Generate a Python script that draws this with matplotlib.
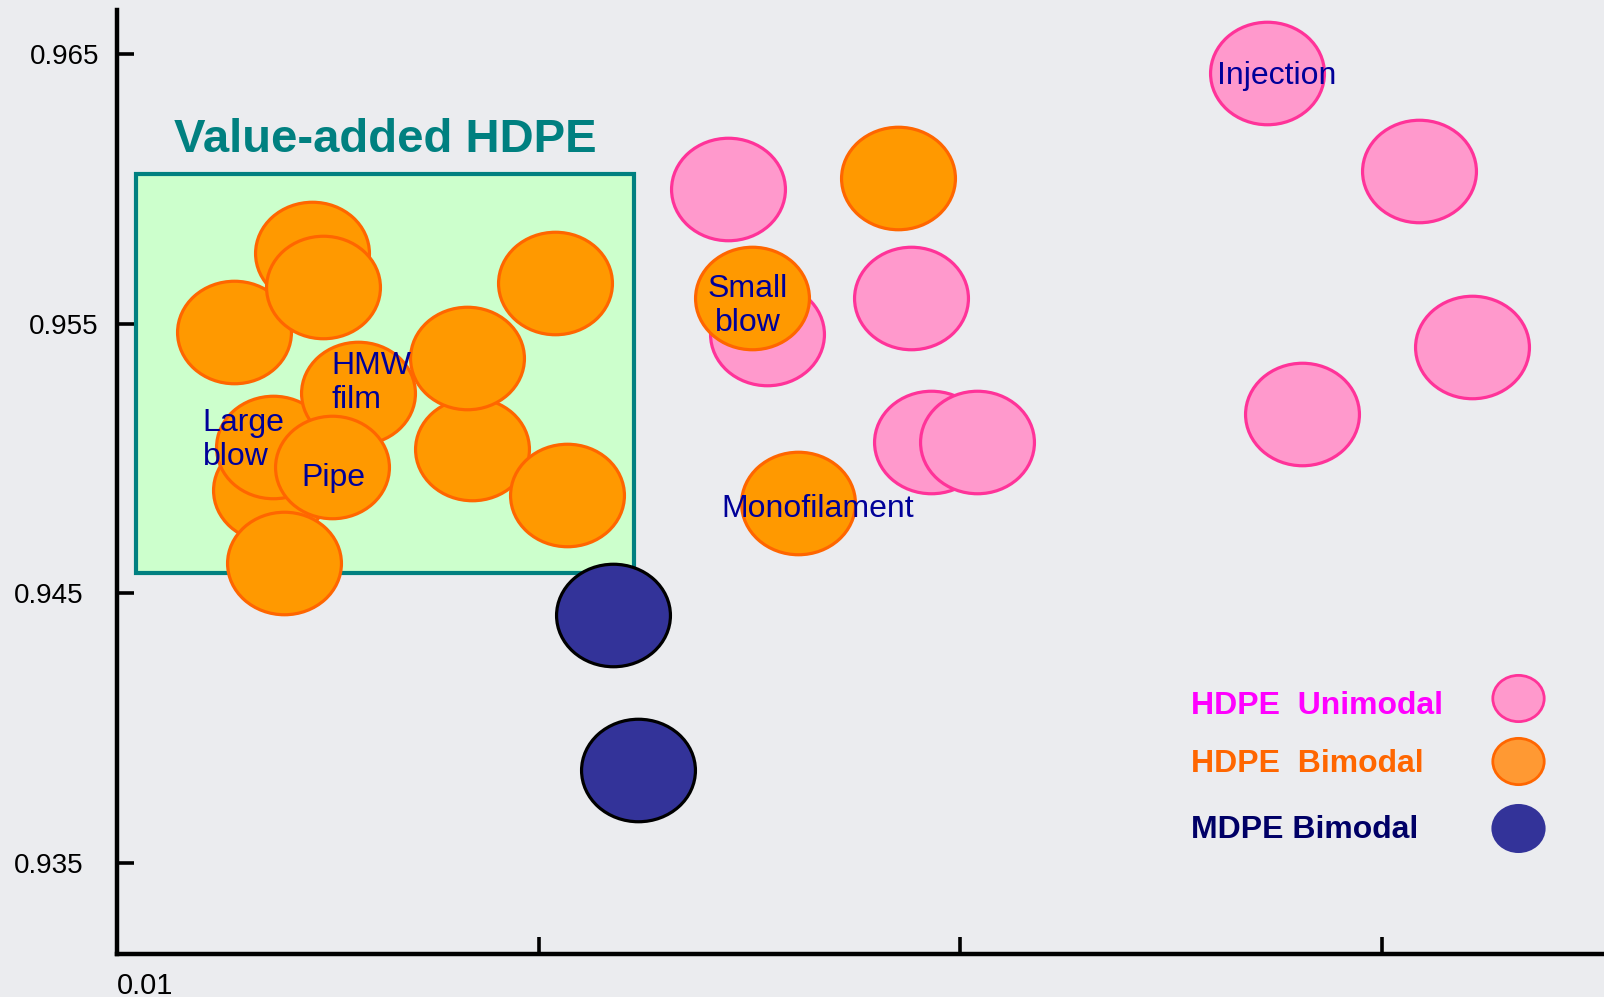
import matplotlib
matplotlib.use("Agg")
import matplotlib.pyplot as plt
from matplotlib.path import Path
from matplotlib.markers import MarkerStyle
from matplotlib.patches import Rectangle
from matplotlib.transforms import Affine2D

plt.rcParams['font.family'] = ['Liberation Sans', 'DejaVu Sans']

# ---------------- data ----------------
# HDPE Unimodal (melt index, density)
uni_x = [0.2816, 0.3484, 0.7635, 0.8518, 1.094, 5.326, 12.23, 16.31, 6.448]
uni_y = [0.9600, 0.95461, 0.95594, 0.95062, 0.95061, 0.96428, 0.96067, 0.95415, 0.95164]

# HDPE Bimodal
bi_x = [0.02306, 0.02348, 0.03722, 0.03240, 0.02489, 0.02895, 0.01897, 0.03084,
        0.06959, 0.06772, 0.1165, 0.1095, 0.7100, 0.3200, 0.4113]
bi_y = [0.94883, 0.95044, 0.95242, 0.94970, 0.94612, 0.95761, 0.95470, 0.95637,
        0.95034, 0.95372, 0.94865, 0.95652, 0.96039, 0.95594, 0.94834]

# MDPE Bimodal
md_x = [0.1498, 0.1722]
md_y = [0.94420, 0.93845]

# value-added region (x from, x to, y from, y to)
region_x = [0.01109, 0.1681]
region_y = [0.94575, 0.96056]

# application labels: text, x, y (baseline of last line), ha
app_labels = ["Injection", "Small\nblow", "HMW\nfilm", "Large\nblow", "Pipe", "Monofilament"]
app_x = [4.053, 0.3127, 0.03229, 0.01596, 0.03257, 0.2716]
app_y = [0.96389, 0.95474, 0.95186, 0.94976, 0.94898, 0.94784]
app_ha = ["left", "center", "left", "left", "center", "left"]

y_ticks = [0.935, 0.945, 0.955, 0.965]
y_ticklabels = ["0.935", "0.945", "0.955", "0.965"]
x_ticks = [0.01, 0.1, 1, 10]
x_ticklabels = ["0.01", "", "", ""]

legend_labels = ["HDPE  Unimodal", "HDPE  Bimodal", "MDPE Bimodal"]
legend_text_colors = ["#FF00FF", "#FF6600", "#000066"]

# ---------------- style ----------------
BG = "#EBECEF"
PINK_FACE, PINK_EDGE = "#FF99CC", "#FF3399"
OR_FACE, OR_EDGE = "#FF9900", "#FF6600"
NAVY = "#333399"
LABEL_COLOR = "#000099"
TEAL = "#008080"

W, H = 1604, 997
fig = plt.figure(figsize=(W / 100, H / 100), dpi=100, facecolor=BG)
ax = fig.add_axes([117 / W, 43 / H, (W - 117) / W, (954 - 10) / H])
ax.set_facecolor(BG)
ax.set_xscale("log")
ax.set_xlim(0.01, 33.6)
ax.set_ylim(0.93163, 0.96663)

ellipse = MarkerStyle(Path.unit_circle().transformed(Affine2D().scale(1.0, 0.90)))
S_MAIN = 82 ** 2

# region box
ax.add_patch(Rectangle((region_x[0], region_y[0]), region_x[1] - region_x[0],
                       region_y[1] - region_y[0], facecolor="#CCFFCC",
                       edgecolor=TEAL, linewidth=3, zorder=1))
ax.text((region_x[0] * region_x[1]) ** 0.5, 0.96138, "Value-added HDPE",
        ha="center", va="baseline", fontsize=34, fontweight="bold", color=TEAL, zorder=5)

ax.scatter(uni_x, uni_y, s=S_MAIN, marker=ellipse, facecolor=PINK_FACE,
           edgecolor=PINK_EDGE, linewidths=2.3, zorder=2)
ax.scatter(bi_x, bi_y, s=S_MAIN, marker=ellipse, facecolor=OR_FACE,
           edgecolor=OR_EDGE, linewidths=2.3, zorder=3)
ax.scatter(md_x, md_y, s=S_MAIN, marker=ellipse, facecolor=NAVY,
           edgecolor="black", linewidths=2.3, zorder=3)

for t, x, y, ha in zip(app_labels, app_x, app_y, app_ha):
    ax.text(x, y, t, ha=ha, va="baseline", fontsize=23, color=LABEL_COLOR,
            linespacing=1.17, multialignment=ha if ha != "center" else "center",
            zorder=6)

# axes styling
for side in ("top", "right"):
    ax.spines[side].set_visible(False)
for side in ("left", "bottom"):
    ax.spines[side].set_linewidth(3.2)
    ax.spines[side].set_color("black")

ax.set_yticks(y_ticks)
ax.set_yticklabels(y_ticklabels)
ax.tick_params(axis="y", direction="in", length=12, width=2.6, labelsize=20, pad=13)
for tk, lab in zip(ax.yaxis.get_major_ticks(), y_ticklabels):
    if lab in ("0.935", "0.945"):
        tk.set_pad(24)

ax.set_xticks(x_ticks)
ax.set_xticklabels(x_ticklabels)
ax.xaxis.set_minor_locator(matplotlib.ticker.NullLocator())
ax.tick_params(axis="x", direction="in", length=12, width=2.6, labelsize=21, pad=13)
for lab in ax.get_xticklabels():
    lab.set_ha("left")

# legend (text left, marker right)
leg_text_y = [0.2838, 0.2260, 0.1592]
leg_mark_y = [0.3000, 0.2370, 0.1698]
leg_faces = [PINK_FACE, "#FF9933", NAVY]
leg_edges = [PINK_EDGE, OR_EDGE, NAVY]
for lab, col, ty, my, fc, ec in zip(legend_labels, legend_text_colors, leg_text_y,
                                    leg_mark_y, leg_faces, leg_edges):
    fig.text(0.7425, ty, lab, ha="left", va="baseline", fontsize=23,
             fontweight="bold", color=col)
    ax.scatter([0.9466], [my], s=37 ** 2, marker=ellipse, facecolor=fc,
               edgecolor=ec, linewidths=2.0, transform=fig.transFigure,
               clip_on=False, zorder=7)

fig.savefig("out.png", dpi=100, facecolor=BG)
